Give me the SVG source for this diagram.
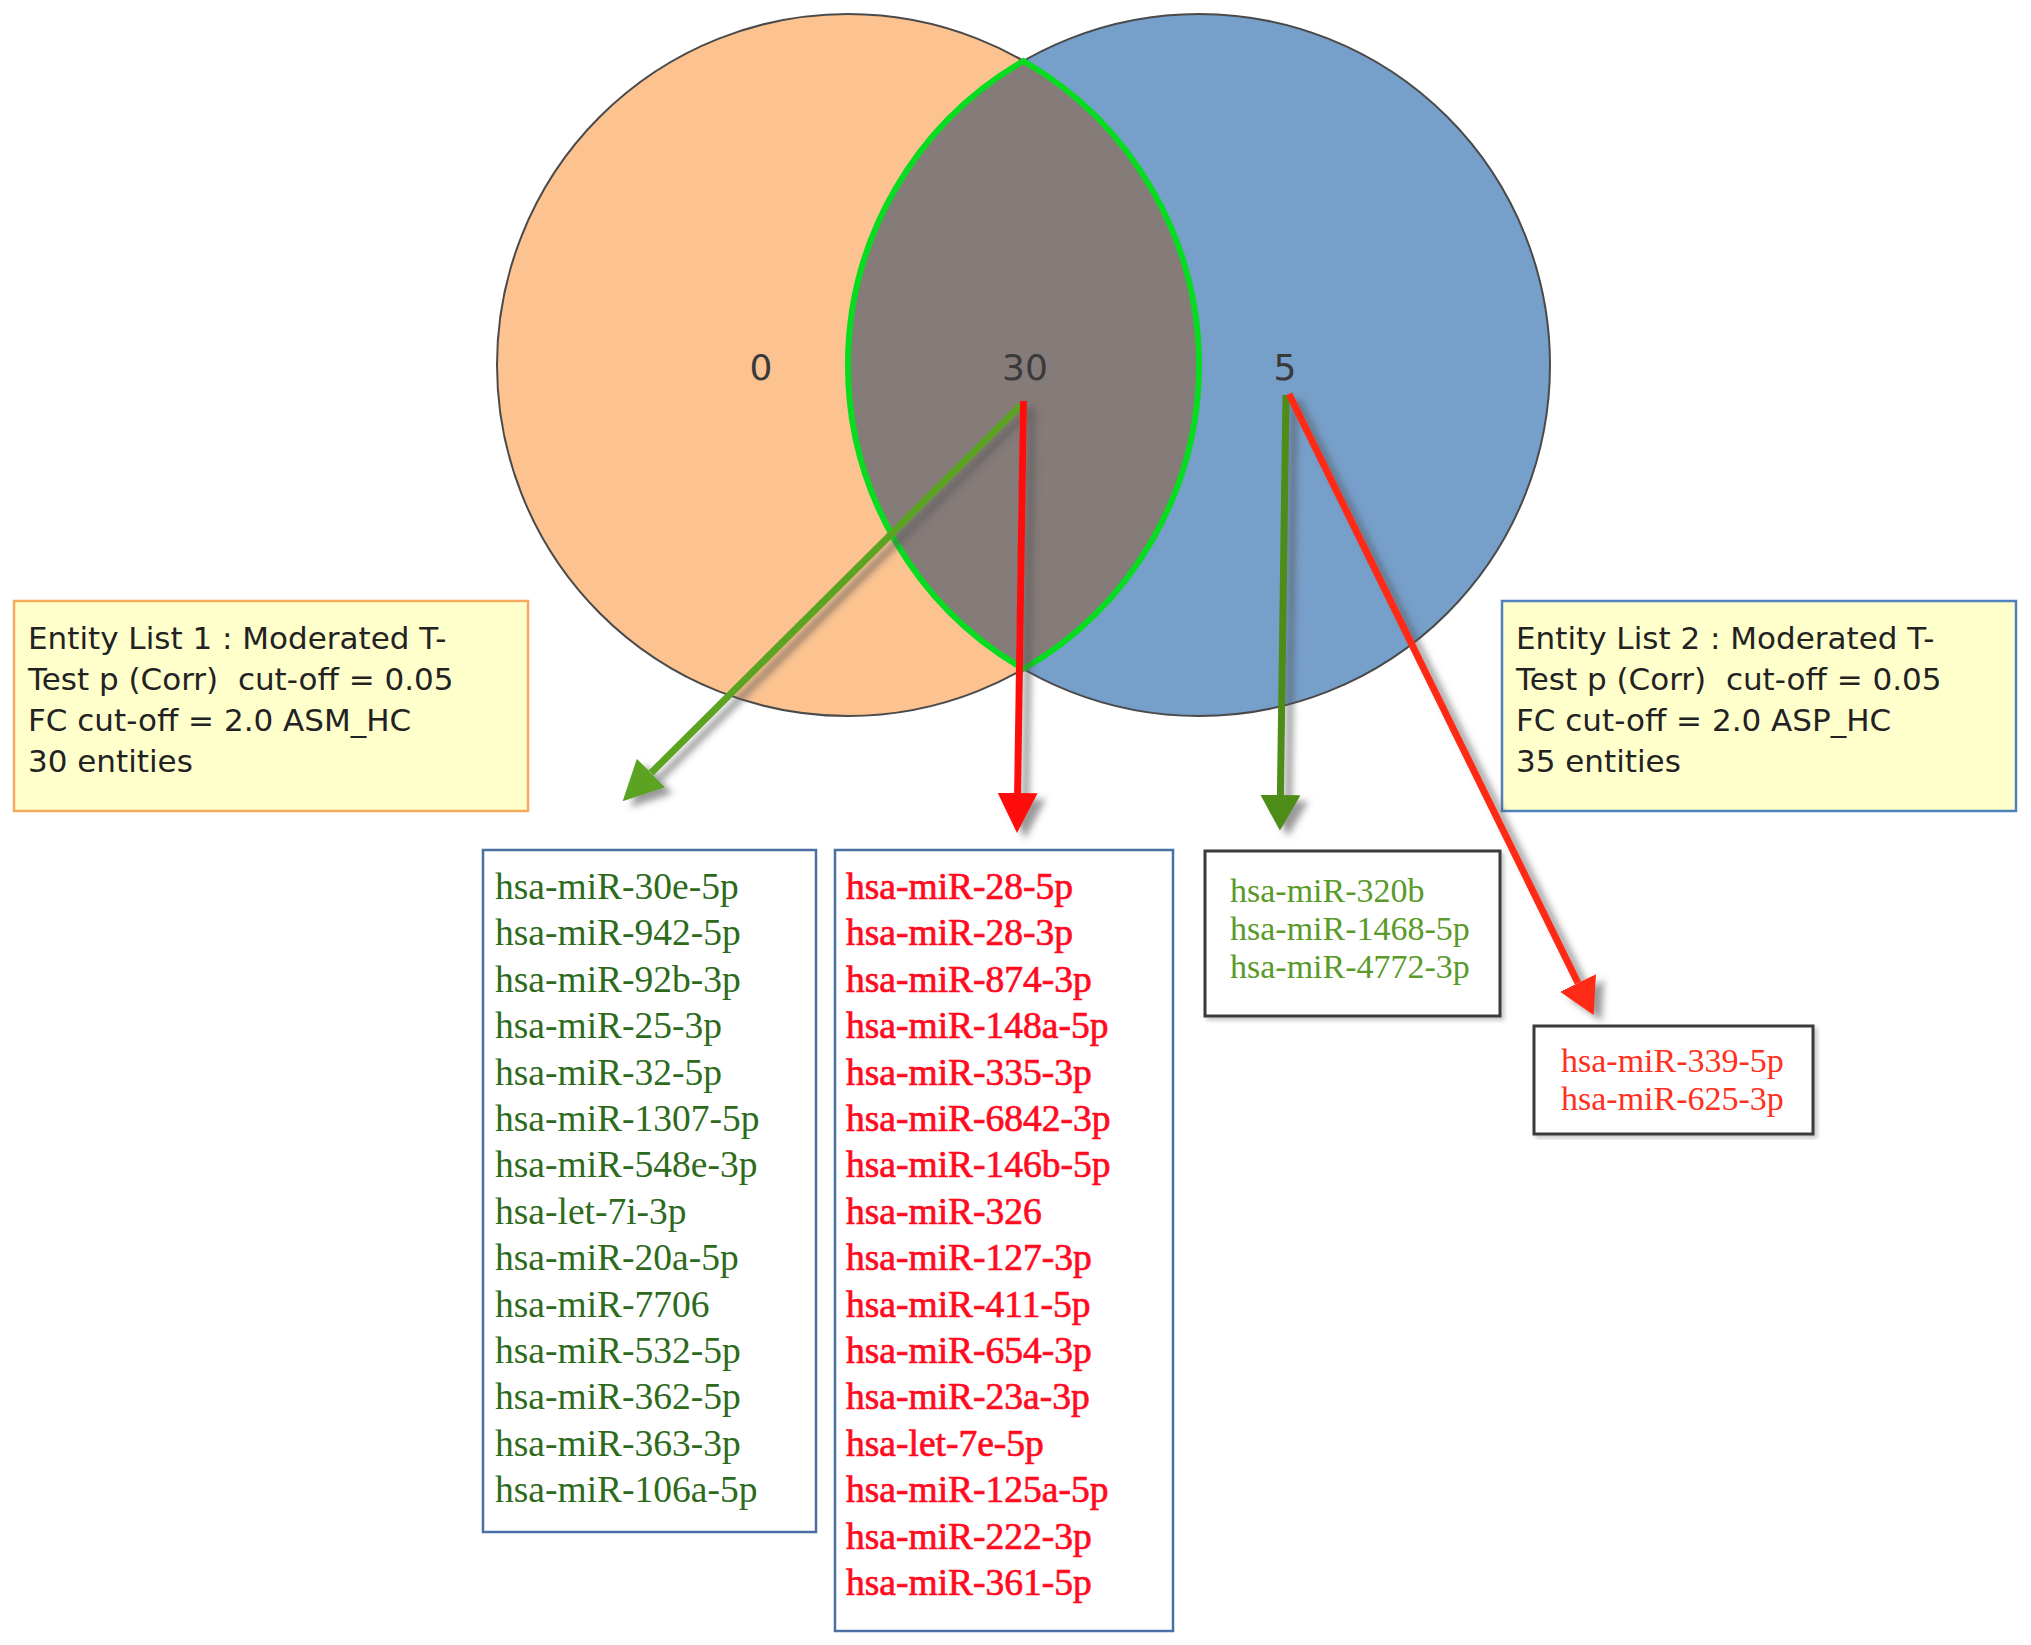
<svg xmlns="http://www.w3.org/2000/svg" width="2031" height="1645" viewBox="0 0 2031 1645">
<style>
.circ{stroke:#4a4a4a;stroke-width:2}
.num{font-family:"DejaVu Sans",sans-serif;font-size:36px;fill:#3a3a3a;text-anchor:middle}
.ent{font-family:"DejaVu Sans",sans-serif;font-size:31px;fill:#222;white-space:pre}
.entbox{fill:#FFFFCC;stroke-width:2.5}
.lst{font-family:"Liberation Serif",serif;font-size:37.5px}
.sm{font-family:"Liberation Serif",serif;font-size:34px}
.lbox{fill:#fff;stroke:#4A6FA5;stroke-width:2.5}
.kbox{fill:#fff;stroke:#3a3a3a;stroke-width:3}
.arr{fill:none;stroke-width:7}
</style>
<defs>
<filter id="sh" x="-20%" y="-20%" width="140%" height="140%">
<feDropShadow dx="8" dy="6" stdDeviation="3.5" flood-color="#555" flood-opacity="0.6"/>
</filter>
<filter id="bsh" x="-5%" y="-5%" width="110%" height="110%">
<feDropShadow dx="3" dy="3" stdDeviation="2" flood-color="#777" flood-opacity="0.4"/>
</filter>
<marker id="mG1" markerUnits="userSpaceOnUse" markerWidth="40" markerHeight="40" refX="0" refY="18" orient="auto" viewBox="0 0 36 36"><path d="M0,0 L36,18 L0,36 Z" fill="#5BA321"/></marker>
<marker id="mG2" markerUnits="userSpaceOnUse" markerWidth="40" markerHeight="40" refX="0" refY="18" orient="auto" viewBox="0 0 36 36"><path d="M0,0 L32,18 L0,36 Z" fill="#4E8C14"/></marker>
<marker id="mR1" markerUnits="userSpaceOnUse" markerWidth="40" markerHeight="40" refX="0" refY="18" orient="auto" viewBox="0 0 36 36"><path d="M0,0 L36,18 L0,36 Z" fill="#FF1010"/></marker>
<marker id="mR2" markerUnits="userSpaceOnUse" markerWidth="40" markerHeight="40" refX="0" refY="18" orient="auto" viewBox="0 0 36 36"><path d="M0,0 L32,18 L0,36 Z" fill="#FF2A12"/></marker>
</defs>
<rect width="2031" height="1645" fill="#fff"/>

<g id="venn">
<circle id="set1" class="circ" cx="848" cy="365" r="351" fill="#FCC391"/>
<circle id="set2" class="circ" cx="1199" cy="365" r="351" fill="#769FCA"/>
<path id="overlap" d="M1023.5,61 A351,351 0 0 1 1023.5,669 A351,351 0 0 1 1023.5,61 Z" fill="#857B79" stroke="#08DC20" stroke-width="6"/>
<text class="num" x="761" y="380">0</text>
<text class="num" x="1025" y="380">30</text>
<text class="num" x="1285" y="380">5</text>
</g>

<g id="entity1">
<rect class="entbox" x="14" y="601" width="514" height="210" stroke="#F6AA5E"/>
<text class="ent" xml:space="preserve"><tspan x="28" y="649">Entity List 1 : Moderated T-</tspan><tspan x="28" y="690">Test p (Corr)  cut-off = 0.05</tspan><tspan x="28" y="731">FC cut-off = 2.0 ASM_HC</tspan><tspan x="28" y="772">30 entities</tspan></text>
</g>

<g id="entity2">
<rect class="entbox" x="1502" y="601" width="514" height="210" stroke="#4F81BD"/>
<text class="ent" xml:space="preserve"><tspan x="1516" y="649">Entity List 2 : Moderated T-</tspan><tspan x="1516" y="690">Test p (Corr)  cut-off = 0.05</tspan><tspan x="1516" y="731">FC cut-off = 2.0 ASP_HC</tspan><tspan x="1516" y="772">35 entities</tspan></text>
</g>

<g id="connectors" filter="url(#sh)">
<line class="arr" x1="1021" y1="405" x2="651" y2="773" stroke="#5BA321" marker-end="url(#mG1)"/>
<line class="arr" x1="1023.5" y1="401" x2="1017.6" y2="793" stroke="#FF1010" marker-end="url(#mR1)"/>
<line class="arr" x1="1286" y1="395" x2="1280.4" y2="795" stroke="#4E8C14" marker-end="url(#mG2)"/>
<line class="arr" x1="1289" y1="394" x2="1578" y2="983" stroke="#FF2A12" marker-end="url(#mR2)"/>
</g>

<g id="list1">
<rect class="lbox" x="483" y="850" width="333" height="682"/>
<text class="lst" fill="#2D6A1C">
<tspan x="495" y="899">hsa-miR-30e-5p</tspan>
<tspan x="495" y="945.4">hsa-miR-942-5p</tspan>
<tspan x="495" y="991.8">hsa-miR-92b-3p</tspan>
<tspan x="495" y="1038.2">hsa-miR-25-3p</tspan>
<tspan x="495" y="1084.6">hsa-miR-32-5p</tspan>
<tspan x="495" y="1131">hsa-miR-1307-5p</tspan>
<tspan x="495" y="1177.4">hsa-miR-548e-3p</tspan>
<tspan x="495" y="1223.8">hsa-let-7i-3p</tspan>
<tspan x="495" y="1270.2">hsa-miR-20a-5p</tspan>
<tspan x="495" y="1316.6">hsa-miR-7706</tspan>
<tspan x="495" y="1363">hsa-miR-532-5p</tspan>
<tspan x="495" y="1409.4">hsa-miR-362-5p</tspan>
<tspan x="495" y="1455.8">hsa-miR-363-3p</tspan>
<tspan x="495" y="1502.2">hsa-miR-106a-5p</tspan>
</text>
</g>

<g id="list2">
<rect class="lbox" x="835" y="850" width="338" height="781"/>
<text class="lst" fill="#FF0A1E" stroke="#FF0A1E" stroke-width="0.7">
<tspan x="846" y="899">hsa-miR-28-5p</tspan>
<tspan x="846" y="945.4">hsa-miR-28-3p</tspan>
<tspan x="846" y="991.8">hsa-miR-874-3p</tspan>
<tspan x="846" y="1038.2">hsa-miR-148a-5p</tspan>
<tspan x="846" y="1084.6">hsa-miR-335-3p</tspan>
<tspan x="846" y="1131">hsa-miR-6842-3p</tspan>
<tspan x="846" y="1177.4">hsa-miR-146b-5p</tspan>
<tspan x="846" y="1223.8">hsa-miR-326</tspan>
<tspan x="846" y="1270.2">hsa-miR-127-3p</tspan>
<tspan x="846" y="1316.6">hsa-miR-411-5p</tspan>
<tspan x="846" y="1363">hsa-miR-654-3p</tspan>
<tspan x="846" y="1409.4">hsa-miR-23a-3p</tspan>
<tspan x="846" y="1455.8">hsa-let-7e-5p</tspan>
<tspan x="846" y="1502.2">hsa-miR-125a-5p</tspan>
<tspan x="846" y="1548.6">hsa-miR-222-3p</tspan>
<tspan x="846" y="1595">hsa-miR-361-5p</tspan>
</text>
</g>

<g id="list3">
<rect class="kbox" x="1205" y="851" width="295" height="165" filter="url(#bsh)"/>
<text class="sm" fill="#5A9A2A">
<tspan x="1230" y="902">hsa-miR-320b</tspan>
<tspan x="1230" y="940">hsa-miR-1468-5p</tspan>
<tspan x="1230" y="978">hsa-miR-4772-3p</tspan>
</text>
</g>

<g id="list4">
<rect class="kbox" x="1534" y="1026" width="279" height="108" filter="url(#bsh)"/>
<text class="sm" fill="#FF3020">
<tspan x="1561" y="1072">hsa-miR-339-5p</tspan>
<tspan x="1561" y="1110">hsa-miR-625-3p</tspan>
</text>
</g>
</svg>
